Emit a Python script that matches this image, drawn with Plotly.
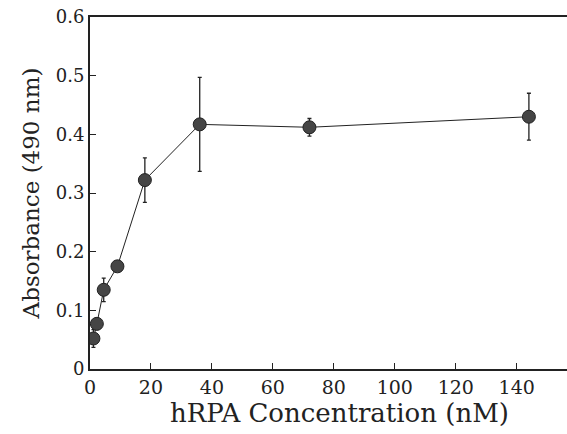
import plotly.graph_objects as go

conc_nM = [1.125, 2.25, 4.5, 9, 18, 36, 72, 144]
absorbance = [0.052, 0.077, 0.135, 0.175, 0.322, 0.417, 0.412, 0.430]
err = [0.015, 0.01, 0.02, 0.005, 0.038, 0.08, 0.015, 0.04]

x_ticks = [0, 20, 40, 60, 80, 100, 120, 140]
y_ticks = [0, 0.1, 0.2, 0.3, 0.4, 0.5, 0.6]

font_family = "DejaVu Serif"
ink = "#222222"

fig = go.Figure()
fig.add_trace(go.Scatter(
    x=conc_nM, y=absorbance, mode="lines+markers",
    line=dict(color=ink, width=1),
    marker=dict(size=13, color="#454545", line=dict(color=ink, width=1)),
    error_y=dict(type="data", array=err, visible=True, color=ink,
                 thickness=1.3, width=2),
    showlegend=False,
))

fig.update_layout(
    width=567, height=434,
    margin=dict(l=90, r=0, t=17, b=65),
    paper_bgcolor="white", plot_bgcolor="white",
    font=dict(family=font_family, color=ink, size=18),
    xaxis=dict(
        range=[0, 156.5], tickvals=x_ticks, ticktext=[str(v) for v in x_ticks],
        ticks="inside", ticklen=6, tickwidth=1, tickcolor=ink,
        showline=True, linecolor=ink, linewidth=2, mirror=True,
        showgrid=False, zeroline=False,
        tickfont=dict(family=font_family, size=19, color=ink),
    ),
    yaxis=dict(
        range=[0, 0.6], tickvals=y_ticks, ticktext=["0", "0.1", "0.2", "0.3", "0.4", "0.5", "0.6"],
        ticks="inside", ticklen=6, tickwidth=1, tickcolor=ink,
        showline=True, linecolor=ink, linewidth=2,
        showgrid=False, zeroline=False,
        title=dict(text="Absorbance (490 nm)",
                   font=dict(family=font_family, size=23, color=ink), standoff=10),
        tickfont=dict(family=font_family, size=18, color=ink),
    ),
    annotations=[dict(
        text="hRPA Concentration (nM)", xref="paper", yref="paper",
        x=0.524, y=-0.125, xanchor="center", yanchor="middle", showarrow=False,
        font=dict(family=font_family, size=26, color=ink),
    )],
)

fig.write_html("out.html")
